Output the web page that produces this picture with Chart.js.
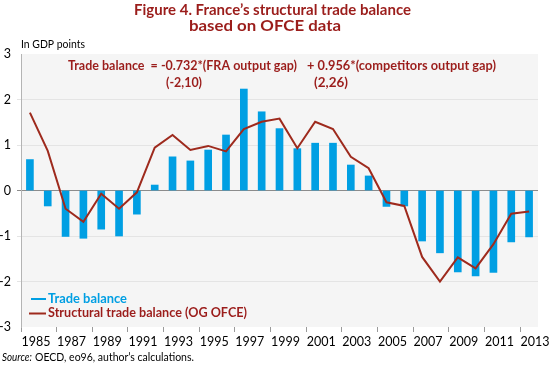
<!DOCTYPE html>
<html>
<head>
<meta charset="utf-8">
<script src="https://cdn.jsdelivr.net/npm/chart.js@4.4.0/dist/chart.umd.min.js"></script>
<style>
  html, body { margin: 0; padding: 0; background: #fff; }
  #wrap { width: 550px; height: 365px; position: relative; }
</style>
</head>
<body>
<div id="wrap"><canvas id="trade"></canvas></div>
<script>
// years on the x axis
const years = ['1985','1986','1987','1988','1989','1990','1991','1992','1993','1994',
  '1995','1996','1997','1998','1999','2000','2001','2002','2003','2004',
  '2005','2006','2007','2008','2009','2010','2011','2012','2013'];

// trade balance, in GDP points (bars)
const tradeBalance = [0.68, -0.34, -1.01, -1.05, -0.85, -1.00, -0.52, 0.12, 0.74, 0.65,
  0.89, 1.22, 2.23, 1.73, 1.36, 0.92, 1.04, 1.04, 0.56, 0.32,
  -0.35, -0.34, -1.11, -1.37, -1.79, -1.88, -1.80, -1.13, -1.02];

// structural trade balance (OG OFCE), in GDP points (line)
const structuralBalance = [1.71, 0.87, -0.40, -0.69, -0.07, -0.40, -0.04, 0.94, 1.22, 0.89,
  0.98, 0.86, 1.35, 1.51, 1.58, 0.93, 1.51, 1.35, 0.74, 0.49,
  -0.26, -0.34, -1.46, -2.00, -1.47, -1.71, -1.18, -0.51, -0.46];

const yTicks = [-3, -2, -1, 0, 1, 2, 3];

const BLUE = '#009fe3';
const RED = '#9e2a1d';
const TXT_RED = '#9b1d1b';
const FONT = 'Lato, "Open Sans", sans-serif';

// draws text squeezed (or stretched) to a given width, left aligned
function fitText(ctx, txt, x, y, w, font) {
  ctx.font = font;
  const m = ctx.measureText(txt).width;
  ctx.save();
  ctx.translate(x, y);
  ctx.scale(w / m, 1);
  ctx.textAlign = 'left';
  ctx.fillText(txt, 0, 0);
  ctx.restore();
}

// grey plot background + all the free text
const decor = {
  id: 'decor',
  beforeDraw(chart) {
    const { ctx, chartArea: a } = chart;
    ctx.save();
    ctx.fillStyle = '#fff';
    ctx.fillRect(0, 0, chart.width, chart.height);
    ctx.fillStyle = '#f5f5f5';
    ctx.fillRect(a.left, a.top, a.right - a.left, a.bottom - a.top);
    ctx.restore();
  },
  afterDraw(chart) {
    const ctx = chart.ctx;
    ctx.save();
    ctx.textBaseline = 'alphabetic';
    // title
    ctx.fillStyle = TXT_RED;
    fitText(ctx, 'Figure 4. France\u2019s structural trade balance', 134, 15, 277, 'bold 15.5px ' + FONT);
    fitText(ctx, 'based on OFCE data', 189, 31, 152, 'bold 15.5px ' + FONT);

    // unit
    ctx.fillStyle = '#000';
    fitText(ctx, 'In GDP points', 21, 48, 64, '11px ' + FONT);

    // equation
    ctx.fillStyle = TXT_RED;
    fitText(ctx, 'Trade balance  = -0.732*(FRA output gap)', 68, 70, 229, 'bold 12.5px ' + FONT);
    fitText(ctx, '+ 0.956*(competitors output gap)', 307, 70, 189, 'bold 12.5px ' + FONT);
    fitText(ctx, '(-2,10)', 166, 87, 36, 'bold 12.5px ' + FONT);
    fitText(ctx, '(2,26)', 314, 87, 34, 'bold 12.5px ' + FONT);

    // legend
    ctx.lineWidth = 2;
    ctx.strokeStyle = BLUE;
    ctx.beginPath(); ctx.moveTo(31, 299); ctx.lineTo(46, 299); ctx.stroke();
    ctx.strokeStyle = RED;
    ctx.beginPath(); ctx.moveTo(29, 313.5); ctx.lineTo(46, 313.5); ctx.stroke();
    ctx.fillStyle = BLUE;
    fitText(ctx, 'Trade balance', 48, 303, 79, 'bold 13px ' + FONT);
    ctx.fillStyle = TXT_RED;
    fitText(ctx, 'Structural trade balance (OG OFCE)', 48, 317, 199, 'bold 13px ' + FONT);

    // source
    ctx.fillStyle = '#000';
    fitText(ctx, 'Source:', 2, 361, 30, 'italic 11.5px ' + FONT);
    fitText(ctx, 'OECD, eo96, author\u2019s calculations.', 35, 361, 159, '11.5px ' + FONT);
    ctx.restore();
  }
};

new Chart(document.getElementById('trade'), {
  data: {
    labels: years,
    datasets: [
      {
        type: 'line',
        label: 'Structural trade balance (OG OFCE)',
        data: structuralBalance,
        borderColor: RED,
        borderWidth: 2,
        pointRadius: 0,
        tension: 0,
        order: 0
      },
      {
        type: 'bar',
        label: 'Trade balance',
        data: tradeBalance,
        backgroundColor: BLUE,
        barThickness: 7,
        order: 1
      }
    ]
  },
  options: {
    responsive: true,
    maintainAspectRatio: false,
    animation: false,
    layout: { padding: { top: 54, right: 12, left: 0, bottom: 0 } },
    plugins: { legend: { display: false }, tooltip: { enabled: false } },
    scales: {
      x: {
        offset: true,
        afterFit(s) { s.height = 38; },
        grid: {
          offset: true,
          drawOnChartArea: false,
          tickLength: 5,
          color: (c) => (c.index % 2 === 0 ? '#9a9a9a' : 'rgba(0,0,0,0)')
        },
        border: { display: false },
        ticks: {
          autoSkip: false,
          maxRotation: 0,
          padding: 2,
          labelOffset: 6,
          color: '#000',
          font: { family: FONT, size: 12.5 },
          callback: (v, i) => (i % 2 === 0 ? years[i] : '')
        }
      },
      y: {
        min: -3,
        max: 3,
        afterFit(s) { s.width = 21; },
        afterBuildTicks(s) { s.ticks = yTicks.map((v) => ({ value: v })); },
        grid: {
          tickLength: 4,
          color: (c) => {
            const v = c.tick && c.tick.value;
            if (v === 0) return '#8c8c8c';
            if (v === 3 || v === -3) return 'rgba(0,0,0,0)';
            return '#e4e4e4';
          }
        },
        border: { display: true, color: '#b4b4b4' },
        ticks: {
          padding: 6,
          color: '#000',
          font: { family: FONT, size: 12.5 }
        }
      }
    }
  },
  plugins: [decor]
});
</script>
</body>
</html>
